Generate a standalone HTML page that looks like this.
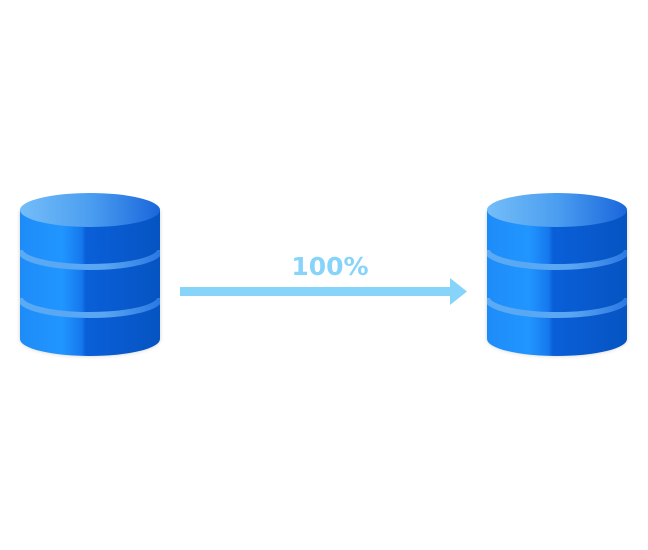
<!DOCTYPE html>
<html><head><style>html,body{margin:0;padding:0;background:#fff;width:648px;height:550px;overflow:hidden}</style></head>
<body>
<svg width="648" height="550" viewBox="0 0 648 550" xmlns="http://www.w3.org/2000/svg">
<defs>
<linearGradient id="body" x1="0" x2="1" y1="0" y2="0">
<stop offset="0" stop-color="#1e8cf8"/>
<stop offset="0.3" stop-color="#2196ff"/>
<stop offset="0.44" stop-color="#1678ee"/>
<stop offset="0.47" stop-color="#0a5fd8"/>
<stop offset="1" stop-color="#0654c2"/>
</linearGradient>
<linearGradient id="top" x1="0" x2="1" y1="0" y2="0">
<stop offset="0" stop-color="#74bdf8"/>
<stop offset="0.5" stop-color="#4b9ef0"/>
<stop offset="1" stop-color="#1a66dc"/>
</linearGradient>
<linearGradient id="band" x1="0" x2="1" y1="0" y2="0">
<stop offset="0" stop-color="#5aaaf5"/>
<stop offset="0.6" stop-color="#5aa6f2"/>
<stop offset="1" stop-color="#2a78e4"/>
</linearGradient>
<clipPath id="cp"><rect x="0" y="0" width="140" height="170"/></clipPath>
<filter id="sh" x="-20%" y="-20%" width="140%" height="140%"><feGaussianBlur stdDeviation="2"/></filter>
<g id="db">
<path d="M0,17 L0,146 A70,17 0 0 0 140,146 L140,17 Z" fill="#000" opacity="0.18" filter="url(#sh)"/>
<path d="M0,17 L0,146 A70,17 0 0 0 140,146 L140,17 Z" fill="url(#body)"/>
<g clip-path="url(#cp)">
<path d="M0,57 A70,17 0 0 0 140,57" fill="none" stroke="url(#band)" stroke-width="6"/>
<path d="M0,105 A70,17 0 0 0 140,105" fill="none" stroke="url(#band)" stroke-width="6"/>
</g>
<ellipse cx="70" cy="17" rx="70" ry="17" fill="url(#top)"/>
</g>
</defs>
<use href="#db" x="20" y="193"/>
<use href="#db" x="487" y="193"/>
<rect x="180" y="287" width="272" height="9" fill="#87d4fb"/>
<polygon points="450,278 467,291.5 450,305" fill="#87d4fb"/>
<text x="330" y="275" text-anchor="middle" font-family="DejaVu Sans, sans-serif" font-weight="bold" font-size="25" fill="#87d4fb">100%</text>
</svg>
</body></html>
